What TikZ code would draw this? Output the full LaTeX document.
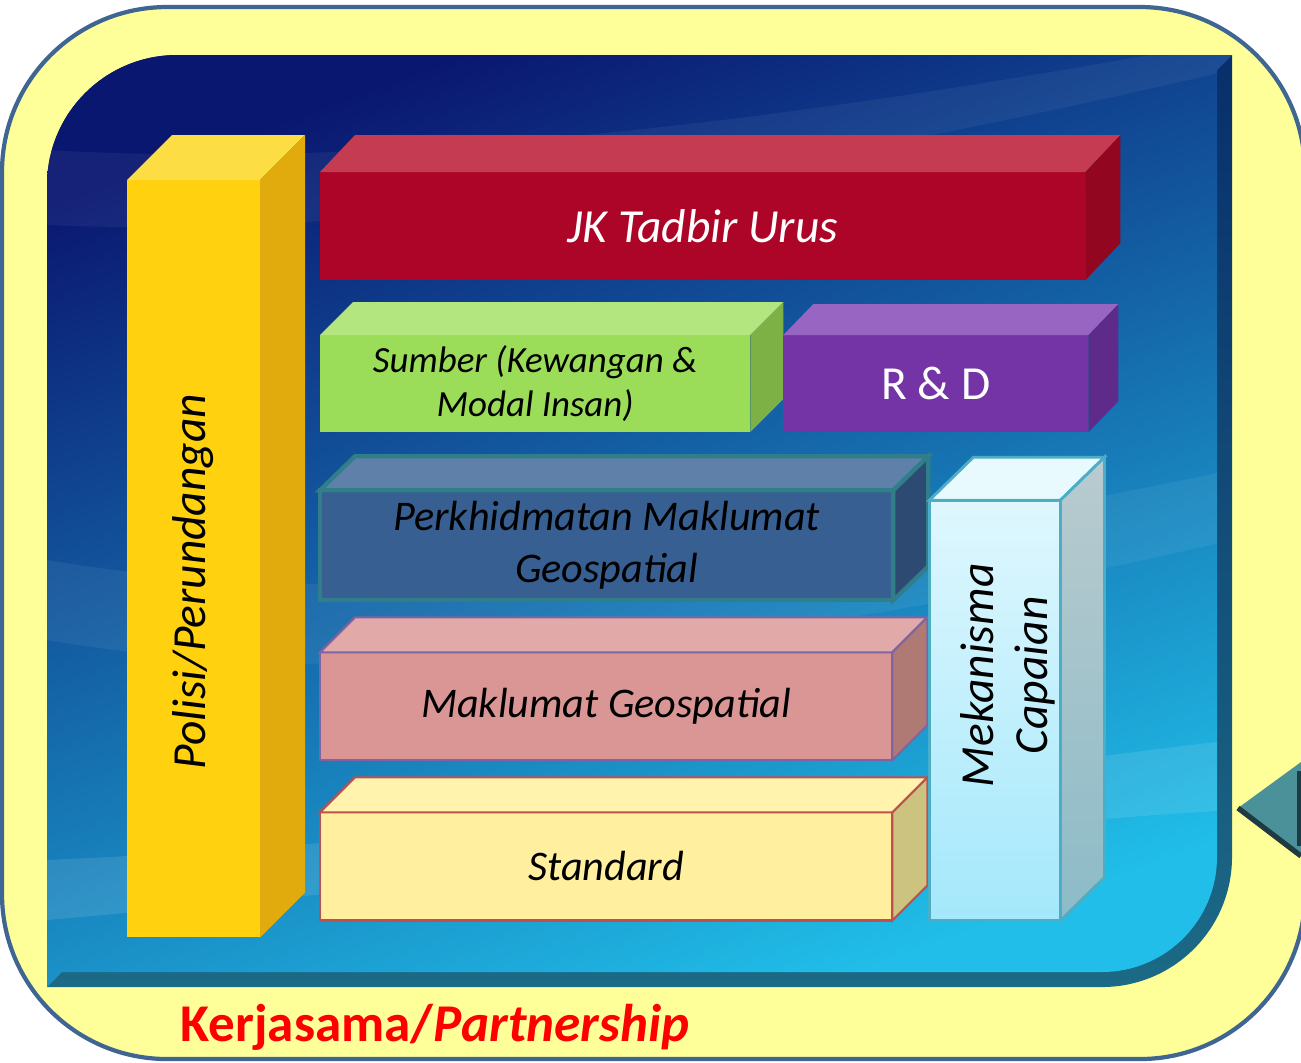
\documentclass[tikz,border=0pt]{standalone}
\usepackage{fontspec}
\setmainfont{Carlito}
\usepackage{graphicx}
\usetikzlibrary{positioning}

\definecolor{outerfill}{HTML}{FFFF99}
\definecolor{outerline}{HTML}{3F6592}
\definecolor{panelA}{HTML}{0A1770}
\definecolor{panelB}{HTML}{0B5CC0}
\definecolor{panelC}{HTML}{20BEE8}
\definecolor{bevelA}{HTML}{082F6A}
\definecolor{bevelB}{HTML}{1C6A86}
\definecolor{polisiF}{HTML}{FFD10F}
\definecolor{polisiT}{HTML}{FCDD44}
\definecolor{polisiS}{HTML}{E1AA0D}
\definecolor{jkF}{HTML}{AD0527}
\definecolor{jkT}{HTML}{C43B52}
\definecolor{jkS}{HTML}{92061F}
\definecolor{sumberF}{HTML}{9BDD58}
\definecolor{sumberT}{HTML}{B3E67F}
\definecolor{sumberS}{HTML}{7DB145}
\definecolor{rndF}{HTML}{7434A6}
\definecolor{rndT}{HTML}{9865C3}
\definecolor{rndS}{HTML}{5F2B8B}
\definecolor{pmgF}{HTML}{375F91}
\definecolor{pmgT}{HTML}{5F80A8}
\definecolor{pmgS}{HTML}{2D4B72}
\definecolor{pmgE}{HTML}{2F7E8A}
\definecolor{mgF}{HTML}{D99694}
\definecolor{mgT}{HTML}{E1A9A8}
\definecolor{mgS}{HTML}{B07A74}
\definecolor{mgE}{HTML}{8064A2}
\definecolor{stdF}{HTML}{FFEF9E}
\definecolor{stdT}{HTML}{FFF3AD}
\definecolor{stdS}{HTML}{CCC381}
\definecolor{stdE}{HTML}{C0504D}
\definecolor{mekA}{HTML}{DFF7FE}
\definecolor{mekB}{HTML}{A4E8FB}
\definecolor{mekT}{HTML}{E9FAFF}
\definecolor{mekS}{HTML}{B9CBCF}
\definecolor{mekSS}{HTML}{8CBBC7}
\definecolor{mekE}{HTML}{4CADC6}
\definecolor{arrowT}{HTML}{4B9199}
\definecolor{arrowD}{HTML}{1F3A40}

\newcommand{\cuboid}[5]{%
  \path[#4] (#1.north west) -- ++(#2,#3) -- ([shift={(#2,#3)}]#1.north east) -- (#1.north east) -- cycle;
  \path[#5] (#1.north east) -- ++(#2,#3) -- ([shift={(#2,#3)}]#1.south east) -- (#1.south east) -- cycle;
}

\begin{document}
\begin{tikzpicture}[x=0.01cm,y=-0.01cm,
    front/.style={rectangle,inner sep=0pt,outer sep=0pt,align=center},
    bigtxt/.style={font=\fontsize{13.5}{16.5}\selectfont\itshape},
    midtxt/.style={font=\fontsize{12}{14.8}\selectfont\itshape},
    smalltxt/.style={font=\fontsize{10.5}{12.5}\selectfont\itshape}]
\useasboundingbox (0,0) rectangle (1301,1062);
\clip (0,0) rectangle (1301,1062);
\fill[white] (0,0) rectangle (1301,1062);
\draw[outerline,fill=outerfill,line width=1.2pt,rounded corners=16.5mm] (2,7) rectangle (1305,1059);

\shade[top color=bevelA,bottom color=bevelB] (47,987) [rounded corners=13mm] -- (47,55) [sharp corners] -- (1232,55) [rounded corners=13mm] -- (1232,987) [sharp corners] -- (47,987) -- cycle;
\begin{scope}
  \clip (47,987) [rounded corners=13mm] -- (47,55) [sharp corners] -- (1232,55) -- (1217,70) [rounded corners=11.5mm] -- (1217,972) [sharp corners] -- (62,972) -- cycle;
  \shade[top color=panelA,middle color=panelB,bottom color=panelC,shading angle=20] (47,55) rectangle (1232,987);
  \fill[white,opacity=0.05] (47,150) .. controls (400,170) and (800,120) .. (1232,40) -- (1232,70) .. controls (800,170) and (400,240) .. (47,225) -- cycle;
  \fill[white,opacity=0.06] (47,560) .. controls (400,620) and (800,560) .. (1232,470) -- (1232,540) .. controls (800,640) and (400,700) .. (47,640) -- cycle;
  \fill[white,opacity=0.10] (47,860) .. controls (500,840) and (900,780) .. (1232,740) -- (1232,810) .. controls (900,830) and (500,880) .. (47,920) -- cycle;
\end{scope}

\fill[arrowT] (1238,808) -- (1301,762) -- (1301,855) -- cycle;
\draw[arrowD,line width=1.5pt] (1238,808) -- (1301,856);
\draw[arrowD,line width=1pt] (1299,771) -- (1299,846);

\node[front,fill=polisiF,minimum width=1.33cm,minimum height=7.57cm,bigtxt,anchor=north west] (polisi) at (127,180) {\rotatebox{90}{Polisi/Perundangan\hspace*{4.6mm}}};
\cuboid{polisi}{45}{-45}{fill=polisiT}{fill=polisiS}

\node[front,fill=jkF,minimum width=7.65cm,minimum height=1.08cm,text=white,bigtxt,anchor=north west] (jk) at (320,172) {JK Tadbir Urus};
\cuboid{jk}{35}{-37}{fill=jkT}{fill=jkS}

\node[front,fill=sumberF,minimum width=4.30cm,minimum height=0.97cm,smalltxt,below=5.5mm of jk.south west,anchor=north west] (sumber) {Sumber (Kewangan \&\\Modal Insan)};
\cuboid{sumber}{33}{-33}{fill=sumberT}{fill=sumberS}

\node[front,fill=rndF,minimum width=3.05cm,minimum height=0.97cm,text=white,font=\fontsize{13.5}{16}\selectfont,right=3.3mm of sumber.north east,anchor=north west] (rnd) {R \& D};
\cuboid{rnd}{30}{-31}{fill=rndT}{fill=rndS}

\node[front,fill=pmgF,draw=pmgE,line width=1.2pt,minimum width=5.73cm,minimum height=1.10cm,midtxt,below=5.8mm of sumber.south west,anchor=north west] (pmg) {Perkhidmatan Maklumat\\Geospatial};
\cuboid{pmg}{35}{-34}{fill=pmgT,draw=pmgE,line width=1.2pt}{fill=pmgS,draw=pmgE,line width=1.2pt}

\node[front,fill=mgF,draw=mgE,line width=0.6pt,minimum width=5.72cm,minimum height=1.08cm,midtxt,below=5.2mm of pmg.south west,anchor=north west] (mg) {Maklumat Geospatial};
\cuboid{mg}{35}{-35}{fill=mgT,draw=mgE,line width=0.6pt}{fill=mgS,draw=mgE,line width=0.6pt}

\node[front,fill=stdF,draw=stdE,line width=0.6pt,minimum width=5.72cm,minimum height=1.08cm,midtxt,below=5.2mm of mg.south west,anchor=north west] (std) {Standard};
\cuboid{std}{35}{-35}{fill=stdT,draw=stdE,line width=0.6pt}{fill=stdS,draw=stdE,line width=0.6pt}

\node[front,top color=mekA,bottom color=mekB,draw=mekE,line width=0.8pt,minimum width=1.31cm,minimum height=4.20cm,bigtxt,right=3.7mm of std.south east,anchor=south west] (mek) {\rotatebox{90}{\hspace*{7mm}\raisebox{-1.4mm}[\height][\depth]{\begin{tabular}{@{}c@{}}Mekanisma\\[-1pt]Capaian\end{tabular}}}};
\cuboid{mek}{44}{-43}{fill=mekT,draw=mekE,line width=0.8pt}{top color=mekS,bottom color=mekSS,draw=mekE,line width=0.8pt}

\node[text=red,inner sep=0pt,font=\fontsize{15.1}{18}\selectfont\bfseries,anchor=west] (kerja) at (180,1027) {Kerjasama/\textit{Partnership}};
\end{tikzpicture}
\end{document}
